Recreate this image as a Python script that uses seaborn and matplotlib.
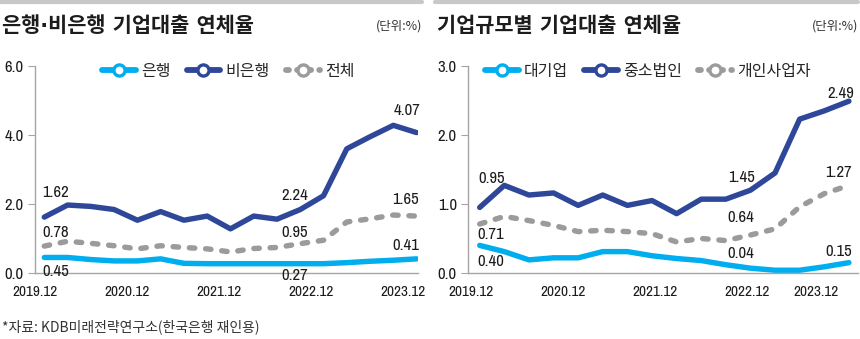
import numpy as np
import pandas as pd
import matplotlib
matplotlib.use("Agg")
import matplotlib.pyplot as plt
from matplotlib.lines import Line2D
from matplotlib import font_manager as fm
from matplotlib.font_manager import FontProperties
import seaborn as sns

# ---- data: quarterly corporate loan delinquency rates (%) ----
left_names = ["은행", "비은행", "전체"]
bank = [0.45, 0.45, 0.39, 0.35, 0.35, 0.41, 0.28, 0.27, 0.27,
        0.27, 0.27, 0.27, 0.27, 0.30, 0.34, 0.37, 0.41]
nonbank = [1.62, 1.97, 1.93, 1.84, 1.53, 1.78, 1.53, 1.65, 1.28,
           1.65, 1.56, 1.84, 2.24, 3.60, 3.95, 4.28, 4.07]
total = [0.78, 0.92, 0.86, 0.79, 0.70, 0.79, 0.74, 0.70, 0.61,
         0.71, 0.74, 0.85, 0.95, 1.48, 1.57, 1.68, 1.65]

right_names = ["대기업", "중소법인", "개인사업자"]
large = [0.40, 0.31, 0.19, 0.22, 0.22, 0.31, 0.31, 0.25,
         0.21, 0.18, 0.12, 0.07, 0.04, 0.04, 0.09, 0.15]
sme = [0.95, 1.27, 1.13, 1.16, 0.98, 1.13, 0.98, 1.05,
       0.86, 1.07, 1.07, 1.20, 1.45, 2.23, 2.35, 2.49]
self_emp = [0.71, 0.82, 0.76, 0.69, 0.60, 0.62, 0.60, 0.57,
            0.45, 0.50, 0.47, 0.55, 0.64, 0.96, 1.15, 1.27]

period_labels = ["2019.12", "2020.12", "2021.12", "2022.12", "2023.12"]
left_yticks = [0.0, 2.0, 4.0, 6.0]
right_yticks = [0.0, 1.0, 2.0, 3.0]

left_title = "은행·비은행 기업대출 연체율"
right_title = "기업규모별 기업대출 연체율"
unit_text = "(단위:%)"
source_text = "*자료: KDB미래전략연구소(한국은행 재인용)"

# ---- style ----
CYAN = "#00AEEF"
NAVY = "#2E4799"
GRAY = "#9B9B9B"
INK = "#1c1c1c"
AXIS = "#a5a5a5"

sns.set_style("white")
KR = "Noto Sans CJK KR"
plt.rcParams["font.family"] = [KR, "DejaVu Sans"]


def narrow_font_file():
    """Pick the narrowest plain latin face that is installed."""
    best, best_score = None, 99
    for f in fm.fontManager.ttflist:
        if f.style != "normal" or f.weight not in (400, "normal", "regular"):
            continue
        name = f.name
        if "Narrow" in name:
            score = 0
        elif f.stretch in ("condensed", "extra-condensed", "ultra-condensed") or "Condensed" in name:
            score = 1
        elif f.stretch == "semi-condensed":
            score = 2
        elif name == "Roboto":
            score = 3
        elif name == "Liberation Sans":
            score = 4
        else:
            continue
        if score < best_score:
            best, best_score = f.fname, score
    return best


nf = narrow_font_file()


def num_font(size):
    fp = FontProperties(fname=nf) if nf else FontProperties(family="DejaVu Sans")
    fp.set_size(size)
    return fp


fp_xtick = num_font(11)
fp_ytick = num_font(12)
fp_note = num_font(12)

W, H = 860, 339
fig = plt.figure(figsize=(W / 100, H / 100), dpi=100)


def px_axes(left, top, right, bottom):
    return fig.add_axes([left / W, 1 - bottom / H, (right - left) / W, (bottom - top) / H])


DASH = (0, (1.0, 2.0))


def draw_panel(ax, series, colors, styles, ymax, yticks, xlim, xtick_pos, notes):
    for vals, col, ls in zip(series, colors, styles):
        df = pd.DataFrame({"q": np.arange(len(vals)), "v": vals})
        sns.lineplot(data=df, x="q", y="v", ax=ax, color=col, linewidth=3.9,
                     linestyle=ls, solid_capstyle="round", dash_capstyle="round",
                     solid_joinstyle="round", dash_joinstyle="round")
    for k, i, dx, dy in notes:
        v = series[k][i]
        ax.annotate(f"{v:.2f}", xy=(i, v), xytext=(dx, -dy), textcoords="offset pixels",
                    ha="center", va="center", fontproperties=fp_note, color=INK)
    ax.set_xlim(*xlim)
    ax.set_ylim(0, ymax)
    ax.set_yticks(yticks)
    ax.set_yticklabels([f"{t:.1f}" for t in yticks], fontproperties=fp_ytick, color=INK)
    ax.set_xticks(xtick_pos)
    ax.set_xticklabels(period_labels, fontproperties=fp_xtick, color=INK)
    ax.tick_params(axis="y", length=5, width=0.8, color=AXIS, pad=3, direction="out", left=True)
    ax.tick_params(axis="x", length=0, pad=9)
    ax.set_xlabel("")
    ax.set_ylabel("")
    for s in ("top", "right"):
        ax.spines[s].set_visible(False)
    for s in ("left", "bottom"):
        ax.spines[s].set_color(AXIS)
        ax.spines[s].set_linewidth(1.0)
    ax.patch.set_alpha(0)


# left panel: banks vs non-banks
axL = px_axes(35, 66, 418, 273)
draw_panel(axL, [total, bank, nonbank], [GRAY, CYAN, NAVY], [DASH, "-", "-"],
           6.0, left_yticks, (-0.36, 16.06), np.linspace(-0.4, 15.4, 5),
           [(2, 0, 11, -25), (2, 12, -29, 0), (2, 16, -10, -22),
            (0, 0, 11, -14), (0, 12, -29, -8), (0, 16, -11, -17),
            (1, 0, 11, 14), (1, 12, -29, 12), (1, 16, -11, -13)])

# right panel: by firm size
axR = px_axes(468, 66, 858, 273)
draw_panel(axR, [self_emp, large, sme], [GRAY, CYAN, NAVY], [DASH, "-", "-"],
           3.0, right_yticks, (-0.475, 15.37), np.linspace(-0.37, 14.6, 5),
           [(2, 0, 12, -29), (2, 12, -34, 5), (2, 15, -8, -8),
            (0, 0, 11, 10), (0, 12, -34, -11), (0, 15, -10, -13),
            (1, 0, 11, 16), (1, 12, -34, -17), (1, 15, -10, -11)])
# keep the last period label inside the canvas
last = axR.get_xticklabels()[-1]
last.set_horizontalalignment("right")
last.set_x(axR.get_xlim()[1])


def legend_handle(col, ls):
    return Line2D([], [], color=col, linewidth=4.2, linestyle=ls,
                  solid_capstyle="round", dash_capstyle="round",
                  marker="o", markersize=8, markerfacecolor="white",
                  markeredgecolor=col, markeredgewidth=2.4)


styles = [("-", CYAN), ("-", NAVY), ((0, (0.5, 1.4)), GRAY)]
for names, x0 in ((left_names, 102), (right_names, 485)):
    handles = [legend_handle(c, ls) for ls, c in styles]
    fig.legend(handles, names, loc="center left", bbox_to_anchor=(x0 / W, 1 - 71.5 / H),
               ncol=3, frameon=False, fontsize=11.5, handlelength=2.1,
               handletextpad=0.35, columnspacing=1.0, borderpad=0, borderaxespad=0)

# headers
title_family = ["DejaVu Sans", KR]
for x0, x1, title in ((0, 422, left_title), (435, 858, right_title)):
    fig.add_artist(Line2D([x0 / W, x1 / W], [1 - 2 / H, 1 - 2 / H], lw=3, color="#c8c8c8"))
    fig.text((x0 + 2) / W, 1 - 26 / H, title, fontsize=15, fontweight="bold",
             family=title_family, ha="left", va="center", color=INK)
    fig.text(x1 / W, 1 - 26 / H, unit_text, fontsize=9, ha="right", va="center", color="#333333")

fig.text(2 / W, 1 - 327 / H, source_text, fontsize=10, ha="left", va="center", color="#333333")

fig.savefig("out.png", dpi=100)
